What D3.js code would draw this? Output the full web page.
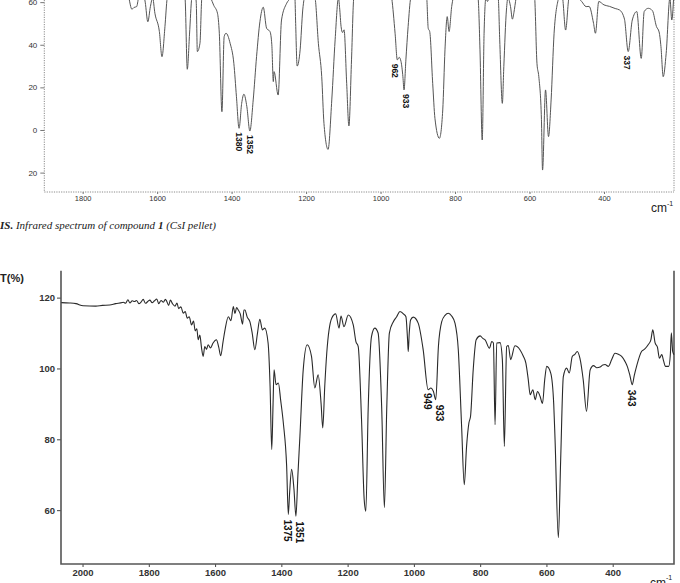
<!DOCTYPE html>
<html><head><meta charset="utf-8">
<script src="https://cdn.jsdelivr.net/npm/d3@7/dist/d3.min.js"></script>
<style>
html,body{margin:0;padding:0;background:#fff;}
svg{display:block;}
</style></head>
<body>
<svg id="c" width="680" height="583"></svg>
<script>
// ---------- DATA ----------
// Upper spectrum (compound 1, CsI pellet) – wavenumber (cm-1) and transmittance
const topWn = [1700,1676,1668,1662,1655,1650,1640,1632,1625,1618,1612,1606,1594,1587,1579,1573,1560,1535,1525,1519,1513,1507,1500,1495,1492,1485,1480,1470,1456,1448,1438,1433,1426,1420,1415,1404,1394,1387,1380,1373,1367,1359,1351,1342,1333,1324,1315,1306,1297,1292,1288,1286,1275,1266,1252,1243,1236,1230,1228,1224,1216,1209,1205,1195,1176,1167,1158,1152,1141,1131,1122,1113,1110,1106,1102,1098,1091,1085,1078,1072,1060,980,970,961,955,950,945,940,937,932,926,919,900,885,876,872,868,860,854,842,833,827,821,816,809,805,790,745,738,733,727,722,717,713,709,700,684,680,673,669,662,658,651,646,642,636,627,590,586,580,575,568,565,557,549,542,534,522,515,511,503,494,485,460,448,440,428,423,414,400,385,370,358,345,335,324,312,300,292,281,270,259,252,247,241,233,223,218,213];
const topT  = [75,62,56.7,57.5,57.9,62,66,60,50.8,58,62,54.8,46.2,34.4,48.5,62,70,70,62,28.5,45,62,66,60,36.8,40.7,62,68,62,58.5,54.8,45.4,8.6,43.8,45.4,40.7,31.3,15.6,0.8,12.5,16.8,10.9,-0.5,14.1,34.4,50.8,57.6,47.7,46.2,40,22.7,27.4,16.4,51.6,59.5,62,66,62,50,30,37.6,56.3,62,68,62,40.7,25,3.1,-9.1,14.1,42.3,62,57.4,48.5,45.7,47,21.9,1.9,32.9,62,70,70,62,45.4,32.9,34.1,32.1,25,18.8,32.9,48.5,62,70,70,62,47.7,46.2,21.9,5.5,-3.9,9.4,37.6,53.2,46.2,57.9,62,68,68,62,37.6,-4.7,45.4,62,60.3,62,68,62,42.3,12.5,29.7,56.3,62,57.9,52,55,62,68,68,62,31.3,25,5,-18.8,18.8,-3.1,14.1,45.4,62,66,62,46.9,62,64,60.3,57.9,58,50,45.4,60.3,58.7,58,57,56.3,52,36.8,51.6,55.6,33.6,55.6,57.1,56,48.5,46,39.1,25,36,62,51.6,62];
const topPeakWn  = [1380,1352,962,933,337];
const topPeakT   = [0.8,-0.5,33,18.8,36.8];
const topPeakLbl = ["1380","1352","962","933","337"];
const topXTicks = [1800,1600,1400,1200,1000,800,600,400];
const topYTicks = [60,40,20,0,-20];
const topYTickLabels = ["60","40","20","0","20"];

// Lower spectrum – wavenumber (cm-1) and T(%)
const botWn = [2064,2040,2020,1998,1960,1940,1918,1900,1880,1877,1870,1863,1857,1850,1843,1837,1830,1823,1817,1810,1803,1797,1790,1783,1776,1770,1763,1756,1750,1746,1740,1735,1728,1721,1715,1710,1703,1696,1690,1684,1678,1671,1665,1660,1655,1651,1646,1641,1636,1631,1626,1621,1614,1606,1596,1589,1583,1576,1570,1560,1552,1545,1540,1535,1530,1524,1517,1513,1510,1503,1495,1488,1480,1472,1465,1457,1450,1440,1434,1429,1425,1422,1416,1409,1402,1394,1384,1379,1375,1369,1362,1356,1350,1344,1334,1322,1309,1299,1289,1280,1275,1269,1263,1248,1236,1226,1220,1211,1198,1183,1175,1168,1158,1150,1145,1138,1128,1118,1108,1097,1089,1082,1074,1062,1052,1042,1030,1024,1019,1017,1014,1010,1002,987,972,957,949,941,934,926,916,906,896,886,876,866,856,848,841,834,829,821,812,800,792,785,772,765,760,755,750,740,733,727,720,715,708,695,680,670,662,655,649,641,634,627,619,612,605,599,587,578,574,564,557,549,539,531,522,514,507,499,489,479,468,458,448,438,430,423,413,403,393,383,373,363,356,348,341,335,328,313,303,293,285,279,272,265,259,252,246,241,231,226,223,219,215];
const botT  = [118.6,118.5,118.3,117.7,117.6,117.8,117.9,118.3,118.6,118.7,118.4,119.4,118.5,119.1,118.9,119.2,118.3,118.8,119.5,118.4,118.9,119.3,118.6,119.1,119.6,118.3,119.2,118.7,119.5,119.0,117.8,119.3,118.2,117.6,118.5,116.9,117.4,115.6,116.1,114.2,114.6,112.3,113.4,110.6,111.2,108.1,109.4,105.9,103.4,106.2,105.4,106.7,105.8,107.2,108.1,106,103.6,107.5,110.9,114.6,113.5,117.5,115.5,117.2,116.5,115.4,112.5,116.5,116.5,114.5,113.2,110,105.3,110,113.9,110.9,111.4,107.2,95,77.1,90,99.6,95.4,95.9,91,84.6,72.4,58.8,65,71.5,66,58.3,70,80.8,99.6,106.7,103.4,94.5,98.2,90,83.2,95,104.3,114.2,115.4,111.4,114.8,111.8,115.1,112.3,107.6,106.2,85.5,63,59.7,88.4,109,111.4,110,88.4,60.7,88.4,110,113.2,114.6,116.1,115.3,114.6,108,104.8,110,113.7,114.5,112.8,105.3,94,94.5,93.5,91.2,106.2,113.2,115,115.6,114.8,112.8,105.3,83.7,67.2,78,84.6,86.5,99.6,108.1,109.2,108.5,108.1,105.7,107.6,107.2,84.1,107.2,107.3,102.5,78,106.2,106.5,102.5,106.4,105.3,103.5,101.5,97,92.6,94,91.2,93.5,92.1,90.1,97,100.6,98.7,90,80,52.2,74.3,97.7,100.1,98.7,103.4,104,104.8,102.9,96.8,87.9,99.6,100.8,100.2,100.4,101,101.1,100.6,102.5,104.3,104,103.4,102,100.6,98,95.4,98,100.6,104.8,105.5,106.7,108,110.9,107.2,106,102.9,103.9,102,100.6,100.6,104,110.1,104.8,103.9];
const botPeakWn  = [1375,1351,949,933,343];
const botPeakT   = [58.8,58.3,94.5,91.2,95.4];
const botPeakLbl = ["1375","1351","949","933","343"];
const botXTicks = [2000,1800,1600,1400,1200,1000,800,600,400];
const botYTicks = [120,100,80,60];

// ---------- DRAW ----------
const svg = d3.select("#c");
const sans = "Liberation Sans, Arial, sans-serif";

// spread labels that are too close horizontally
function spread(xs, minGap){
  const out = xs.slice();
  for(let i=1;i<out.length;i++){
    const gap = out[i]-out[i-1];
    if(Math.abs(gap) < minGap){
      const push = (minGap-Math.abs(gap))/2;
      out[i-1] -= push; out[i] += push;
    }
  }
  return out;
}

// ===== Upper chart =====
const tx = d3.scaleLinear().domain([1903, 212]).range([44.3, 674]);
const ty = d3.scaleLinear().domain([-29.1, 61]).range([192, 0]);

svg.append("defs").append("clipPath").attr("id","clipTop")
  .append("rect").attr("x",44.3).attr("y",0).attr("width",674-44.3).attr("height",192);

const gTop = svg.append("g");
const frameStyle = s => s.attr("stroke","#8a8a8a").attr("stroke-width",1).attr("stroke-dasharray","1.2,1.2").attr("fill","none");
gTop.append("line").attr("x1",44.3).attr("x2",44.3).attr("y1",0).attr("y2",192).call(frameStyle);
gTop.append("line").attr("x1",44.3).attr("x2",674).attr("y1",192).attr("y2",192).call(frameStyle);
gTop.append("line").attr("x1",674).attr("x2",674).attr("y1",0).attr("y2",192).call(frameStyle);

const topYAxis = d3.axisLeft(ty).tickValues(topYTicks).tickSize(4).tickPadding(3)
  .tickFormat((d,i)=>topYTickLabels[i]);
const gty = gTop.append("g").attr("transform","translate(44.3,0)").call(topYAxis);
gty.select(".domain").remove();
gty.selectAll(".tick line").attr("stroke","#777");
gty.selectAll("text").attr("font-family",sans).attr("font-size",8).attr("fill","#333");

const topXAxis = d3.axisBottom(tx).tickValues(topXTicks).tickSize(2).tickPadding(2).tickFormat(d3.format("d"));
const gtx = gTop.append("g").attr("transform","translate(0,192)").call(topXAxis);
gtx.select(".domain").remove();
gtx.selectAll(".tick line").attr("stroke","#777");
gtx.selectAll("text").attr("font-family",sans).attr("font-size",7.5).attr("fill","#333");

const lineTop = d3.line().curve(d3.curveMonotoneX).x((d,i)=>tx(topWn[i])).y((d,i)=>ty(topT[i]));
gTop.append("path").datum(topWn).attr("d",lineTop).attr("clip-path","url(#clipTop)")
  .attr("fill","none").attr("stroke","#555").attr("stroke-width",1);

const topLblX = spread(topPeakWn.map(w=>tx(w)), 11);
topPeakWn.forEach((w,i)=>{
  const x = topLblX[i], y = ty(topPeakT[i]) + 4;
  gTop.append("text").attr("transform",`translate(${x-3},${y}) rotate(90)`)
    .attr("font-family",sans).attr("font-weight","bold")
    .attr("font-size",8.5).attr("fill","#111").text(topPeakLbl[i]);
});

const cmTop = gTop.append("text").attr("x",651).attr("y",212)
  .attr("font-family",sans).attr("font-size",12).attr("fill","#222");
cmTop.append("tspan").text("cm");
cmTop.append("tspan").attr("dy",-6).attr("font-size",7).text("-1");

// caption
const cap = svg.append("text").attr("x",0).attr("y",229)
  .attr("font-family","Liberation Serif, Times New Roman, serif").attr("font-style","italic")
  .attr("font-size",11).attr("fill","#222");
cap.append("tspan").attr("font-weight","bold").text("IS.");
cap.append("tspan").text(" Infrared spectrum of compound ");
cap.append("tspan").attr("font-weight","bold").text("1");
cap.append("tspan").text(" (CsI pellet)");

// ===== Lower chart =====
const bx = d3.scaleLinear().domain([2065, 215]).range([61, 674]);
const by = d3.scaleLinear().domain([44.8, 127.6]).range([564, 270.7]);

const gBot = svg.append("g");
const botYAxis = d3.axisLeft(by).tickValues(botYTicks).tickSize(4).tickPadding(2).tickFormat(d3.format("d"));
const gby = gBot.append("g").attr("transform","translate(61,0)").call(botYAxis);
gby.select(".domain").remove();
gby.selectAll(".tick line").attr("stroke","#444");
gby.selectAll("text").attr("font-family",sans).attr("font-weight","bold")
  .attr("font-size",9.5).attr("fill","#333");

const botXAxis = d3.axisBottom(bx).tickValues(botXTicks).tickSize(3).tickPadding(2).tickFormat(d3.format("d"));
const gbx = gBot.append("g").attr("transform","translate(0,564)").call(botXAxis);
gbx.select(".domain").remove();
gbx.selectAll(".tick line").attr("stroke","#444");
gbx.selectAll("text").attr("font-family",sans).attr("font-weight","bold")
  .attr("font-size",9.5).attr("fill","#333");

gBot.append("path").attr("d",`M61,270.7V564H674V270.7`).attr("fill","none").attr("stroke","#555").attr("stroke-width",1.6);

const lineBot = d3.line().curve(d3.curveMonotoneX).x((d,i)=>bx(botWn[i])).y((d,i)=>by(botT[i]));
gBot.append("path").datum(botWn).attr("d",lineBot)
  .attr("fill","none").attr("stroke","#2a2a2a").attr("stroke-width",1.1);

const botLblX = spread(botPeakWn.map(w=>bx(w)), 12);
botPeakWn.forEach((w,i)=>{
  const x = botLblX[i], y = by(botPeakT[i]) + 5;
  gBot.append("text").attr("transform",`translate(${x-3.5},${y}) rotate(90)`)
    .attr("font-family",sans).attr("font-weight","bold")
    .attr("font-size",10).attr("fill","#111").text(botPeakLbl[i]);
});

svg.append("text").attr("x",0).attr("y",282)
  .attr("font-family",sans).attr("font-weight","bold")
  .attr("font-size",11).attr("fill","#222").text("T(%)");

const cmBot = svg.append("text").attr("x",650).attr("y",587)
  .attr("font-family",sans).attr("font-size",12).attr("fill","#222");
cmBot.append("tspan").text("cm");
cmBot.append("tspan").attr("dy",-7).attr("font-size",7).text("-1");
</script>
</body></html>
